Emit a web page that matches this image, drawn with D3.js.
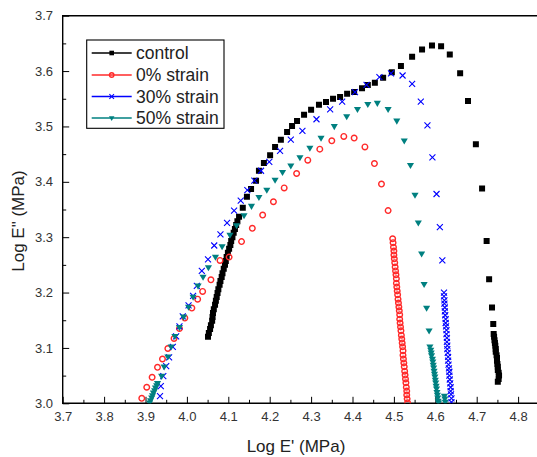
<!DOCTYPE html>
<html><head><meta charset="utf-8">
<script src="https://cdn.jsdelivr.net/npm/d3@7"></script>
<style>body{margin:0;background:#fff} svg{display:block}</style>
</head><body><svg id="c" width="537" height="457"></svg>
<script>
const seriesNames = ["control", "0% strain", "30% strain", "50% strain"];
const seriesColors = ["#000000", "#ff2a2a", "#0000ff", "#008080"];

const controlData = [
[4.051,3.120],[4.053,3.127],[4.056,3.134],[4.058,3.141],[4.061,3.149],[4.062,3.156],[4.063,3.163],[4.065,3.170],
[4.068,3.178],[4.070,3.185],[4.072,3.192],[4.074,3.199],[4.076,3.206],[4.079,3.214],[4.081,3.221],[4.084,3.228],
[4.086,3.235],[4.089,3.243],[4.092,3.250],[4.094,3.257],[4.096,3.264],[4.099,3.272],[4.102,3.279],[4.105,3.286],
[4.107,3.293],[4.110,3.300],[4.113,3.308],[4.116,3.315],[4.119,3.322],[4.122,3.329],[4.126,3.337],
[4.135,3.353],[4.145,3.373],[4.155,3.387],[4.167,3.402],[4.174,3.420],[4.186,3.434],[4.201,3.448],[4.213,3.463],
[4.227,3.476],[4.242,3.490],[4.254,3.501],[4.266,3.510],[4.283,3.521],[4.300,3.530],[4.319,3.539],[4.336,3.544],
[4.353,3.550],[4.370,3.553],[4.387,3.559],[4.404,3.562],[4.423,3.569],[4.437,3.575],[4.454,3.579],[4.474,3.588],
[4.495,3.598],[4.517,3.609],[4.544,3.626],[4.568,3.639],[4.592,3.646],[4.614,3.645],[4.635,3.630],[4.660,3.596],
[4.679,3.546],[4.698,3.468],[4.713,3.388],[4.724,3.293],[4.730,3.224],[4.737,3.173],[4.740,3.143],[4.741,3.125],
[4.742,3.120],[4.743,3.114],[4.744,3.109],[4.745,3.104],[4.746,3.098],[4.746,3.093],[4.748,3.087],[4.749,3.082],
[4.749,3.077],[4.750,3.071],[4.751,3.066],[4.751,3.060],[4.753,3.055],[4.754,3.050],[4.753,3.044],[4.751,3.039]
];

const strain0Data = [
[3.891,3.009],[3.903,3.029],[3.916,3.047],[3.929,3.065],[3.941,3.080],[3.954,3.099],[3.969,3.117],[3.982,3.135],
[3.995,3.154],[4.012,3.172],[4.026,3.188],[4.038,3.202],[4.058,3.223],[4.080,3.258],[4.102,3.264],[4.132,3.292],
[4.158,3.316],[4.183,3.340],[4.209,3.364],[4.235,3.389],[4.265,3.415],[4.292,3.439],[4.321,3.459],[4.350,3.474],
[4.379,3.482],[4.404,3.479],[4.430,3.463],[4.453,3.433],[4.470,3.396],[4.486,3.348],
[4.497,3.297],[4.498,3.290],[4.499,3.282],[4.500,3.275],[4.500,3.268],[4.501,3.261],[4.502,3.254],[4.503,3.246],
[4.504,3.239],[4.505,3.232],[4.506,3.225],[4.506,3.217],[4.507,3.210],[4.508,3.203],[4.509,3.196],[4.510,3.188],
[4.511,3.181],[4.512,3.174],[4.513,3.167],[4.514,3.160],[4.514,3.152],[4.515,3.145],[4.516,3.138],[4.517,3.131],
[4.518,3.123],[4.519,3.116],[4.520,3.109],[4.521,3.102],[4.522,3.095],[4.522,3.087],[4.523,3.080],[4.524,3.073],
[4.525,3.066],[4.526,3.058],[4.527,3.051],[4.528,3.044],[4.529,3.037],[4.530,3.029],[4.531,3.022],[4.531,3.015],
[4.532,3.008],[4.533,3.001]
];

const strain30Data = [
[3.935,3.013],[3.937,3.031],[3.943,3.049],[3.950,3.067],[3.957,3.083],[3.966,3.102],[3.974,3.121],[3.982,3.139],
[3.990,3.157],[4.004,3.177],[4.015,3.194],[4.024,3.212],[4.036,3.239],[4.051,3.260],[4.066,3.285],[4.081,3.305],
[4.097,3.326],[4.114,3.348],[4.130,3.366],[4.146,3.385],[4.163,3.402],[4.179,3.420],[4.199,3.436],[4.225,3.456],
[4.251,3.476],[4.279,3.492],[4.313,3.513],[4.346,3.531],[4.375,3.545],[4.406,3.562],[4.434,3.575],[4.465,3.589],
[4.493,3.596],[4.521,3.592],[4.544,3.577],[4.565,3.545],[4.581,3.502],[4.593,3.444],[4.603,3.378],[4.611,3.318],
[4.617,3.258],
[4.621,3.200],[4.621,3.193],[4.622,3.186],[4.622,3.180],[4.623,3.173],[4.623,3.166],[4.624,3.159],[4.625,3.152],
[4.625,3.145],[4.626,3.139],[4.627,3.132],[4.627,3.125],[4.628,3.118],[4.628,3.111],[4.629,3.104],[4.629,3.098],
[4.630,3.091],[4.631,3.084],[4.631,3.077],[4.632,3.070],[4.633,3.063],[4.634,3.057],[4.634,3.050],[4.635,3.043],
[4.636,3.036],[4.637,3.029],[4.637,3.022],[4.638,3.016],[4.639,3.009],[4.639,3.002]
];

const strain50Data = [
[3.910,3.001],[3.912,3.005],[3.915,3.010],[3.917,3.014],[3.919,3.019],[3.922,3.023],[3.924,3.028],[3.927,3.032],
[3.929,3.036],
[3.939,3.049],[3.945,3.066],[3.954,3.084],[3.962,3.102],[3.971,3.121],[3.982,3.137],[3.992,3.156],[4.004,3.174],
[4.015,3.192],[4.027,3.212],[4.039,3.228],[4.052,3.245],[4.069,3.264],[4.085,3.283],[4.104,3.304],[4.120,3.321],
[4.138,3.339],[4.156,3.356],[4.174,3.372],[4.193,3.385],[4.213,3.403],[4.231,3.417],[4.251,3.429],[4.273,3.444],
[4.297,3.461],[4.324,3.479],[4.356,3.500],[4.386,3.518],[4.412,3.531],[4.437,3.540],[4.460,3.542],[4.486,3.531],
[4.507,3.510],[4.525,3.474],[4.540,3.430],[4.551,3.376],[4.559,3.326],[4.567,3.270],[4.573,3.215],[4.579,3.172],
[4.585,3.131],
[4.587,3.102],[4.589,3.096],[4.590,3.091],[4.591,3.086],[4.593,3.080],[4.594,3.075],[4.595,3.069],[4.596,3.064],
[4.597,3.058],[4.598,3.053],[4.599,3.048],[4.600,3.042],[4.601,3.037],[4.602,3.031],[4.603,3.026],[4.604,3.020],
[4.605,3.015],[4.606,3.010],[4.607,3.004],[4.608,3.001],
[4.622,3.013],[4.623,3.008],[4.624,3.002]
];

const xTickValues = [3.7,3.8,3.9,4.0,4.1,4.2,4.3,4.4,4.5,4.6,4.7,4.8];
const yTickValues = [3.0,3.1,3.2,3.3,3.4,3.5,3.6,3.7];
const xMinorValues = [3.75,3.85,3.95,4.05,4.15,4.25,4.35,4.45,4.55,4.65,4.75];
const yMinorValues = [3.05,3.15,3.25,3.35,3.45,3.55,3.65];
const xTitle = "Log E' (MPa)";
const yTitle = "Log E\" (MPa)";

const svg = d3.select("#c");
const L = 62.7, R = 559.5, T = 15.7, B = 403.3;
const x = d3.scaleLinear().domain([3.7, 4.9]).range([L, R]);
const y = d3.scaleLinear().domain([3.0, 3.7]).range([B, T]);

const font = "'Liberation Sans', Arial, sans-serif";

svg.append("defs").append("clipPath").attr("id", "clip")
  .append("rect").attr("x", L).attr("y", T).attr("width", R - L).attr("height", B - T);

// axes
const gx = svg.append("g").attr("transform", `translate(0,${B})`)
  .call(d3.axisBottom(x).tickValues(xTickValues).tickSize(-6.5).tickPadding(8.5).tickFormat(d3.format(".1f")));
const gxm = svg.append("g").attr("transform", `translate(0,${B})`)
  .call(d3.axisBottom(x).tickValues(xMinorValues).tickSize(-3.5).tickFormat(""));
const gy = svg.append("g").attr("transform", `translate(${L},0)`)
  .call(d3.axisLeft(y).tickValues(yTickValues).tickSize(-6.5).tickPadding(9.7).tickFormat(d3.format(".1f")));
const gym = svg.append("g").attr("transform", `translate(${L},0)`)
  .call(d3.axisLeft(y).tickValues(yMinorValues).tickSize(-3.5).tickFormat(""));
[gx, gxm, gy, gym].forEach(g => {
  g.select(".domain").remove();
  g.selectAll(".tick line").attr("stroke", "#000").attr("stroke-width", 1);
  g.selectAll(".tick text").attr("font-family", font).attr("font-size", 13).attr("fill", "#333");
});

// frame
svg.append("path")
  .attr("d", `M${L},${T}H${R}M${L},${T - 0.6}V${B}H${R}`)
  .attr("fill", "none").attr("stroke", "#000").attr("stroke-width", 1.4);

// titles
svg.append("text").attr("x", 296).attr("y", 452).attr("text-anchor", "middle")
  .attr("font-family", font).attr("font-size", 17).attr("fill", "#222").text(xTitle);
svg.append("text").attr("transform", "translate(24,221) rotate(-90)").attr("text-anchor", "middle")
  .attr("font-family", font).attr("font-size", 17).attr("fill", "#222").text(yTitle);

// markers
const markerPaths = [
  s => `M${-s},${-s}h${2*s}v${2*s}h${-2*s}z`,
  null,
  s => `M${-s},${-s}L${s},${s}M${-s},${s}L${s},${-s}`,
  s => `M${-s*1.15},${-s*0.75}L${s*1.15},${-s*0.75}L0,${s*1.2}Z`
];
function drawMarker(g, i, size) {
  const c = seriesColors[i];
  if (i === 1) {
    return g.append("circle").attr("r", size).attr("fill", "none").attr("stroke", c).attr("stroke-width", 1.4);
  } else if (i === 2) {
    return g.append("path").attr("d", markerPaths[2](size)).attr("fill", "none").attr("stroke", c).attr("stroke-width", 1.1);
  } else {
    return g.append("path").attr("d", markerPaths[i](size)).attr("fill", c);
  }
}
const sizes = [3, 2.8, 3, 3.1];
const plot = svg.append("g").attr("clip-path", "url(#clip)");
[controlData, strain0Data, strain30Data, strain50Data].forEach((data, i) => {
  const g = plot.append("g");
  data.forEach(d => {
    const m = g.append("g").attr("transform", `translate(${x(d[0])},${y(d[1])})`);
    drawMarker(m, i, sizes[i]);
  });
});

// legend
const lg = svg.append("g");
lg.append("rect").attr("x", 86.7).attr("y", 40).attr("width", 137.3).attr("height", 88.3)
  .attr("fill", "#fff").attr("stroke", "#000").attr("stroke-width", 1.1);
const rowY = [53, 75, 96.5, 118];
seriesNames.forEach((name, i) => {
  lg.append("line").attr("x1", 91.7).attr("x2", 131.7).attr("y1", rowY[i]).attr("y2", rowY[i])
    .attr("stroke", seriesColors[i]).attr("stroke-width", 1.3);
  const m = lg.append("g").attr("transform", `translate(111.7,${rowY[i]})`);
  drawMarker(m, i, [2.3, 2.2, 2.3, 2.4][i]);
  lg.append("text").attr("x", 136).attr("y", rowY[i]).attr("dy", "0.36em")
    .attr("font-family", font).attr("font-size", 17.5).attr("fill", "#222").text(name);
});
</script>
</body></html>
